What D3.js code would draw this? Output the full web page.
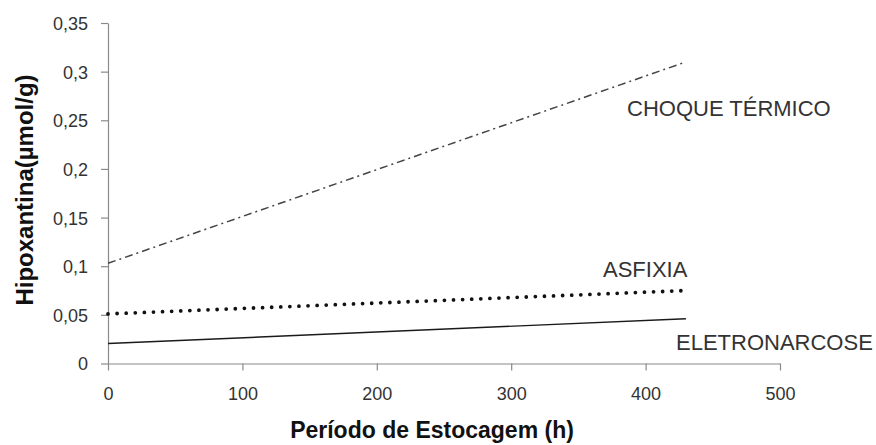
<!DOCTYPE html>
<html>
<head>
<meta charset="utf-8">
<script src="https://cdn.jsdelivr.net/npm/d3@7"></script>
<style>
  html, body { margin: 0; padding: 0; background: #fff; }
  svg { display: block; font-family: "Liberation Sans", Arial, sans-serif; }
</style>
</head>
<body>
<svg id="chart" width="876" height="445"></svg>
<script>
// Storage period (h) at the start and end of each fitted line
const period = [0, 430];

// Hypoxanthine (µmol/g) for each slaughter method
const choqueTermico = [0.103, 0.31];
const asfixia = [0.051, 0.075];
const eletronarcose = [0.0205, 0.046];

// Axis ticks
const xTicks = [0, 100, 200, 300, 400, 500];
const yTicks = [0, 0.05, 0.1, 0.15, 0.2, 0.25, 0.3, 0.35];

// Series names written next to their lines
const seriesNames = ["CHOQUE TÉRMICO", "ASFIXIA", "ELETRONARCOSE"];

const svg = d3.select("#chart");

const x = d3.scaleLinear().domain([0, 500]).range([108, 780]);
const y = d3.scaleLinear().domain([0, 0.35]).range([363.5, 23]);

const fmt = v => String(+v.toFixed(2)).replace(".", ",");

// X axis
const gx = svg.append("g")
  .attr("transform", `translate(0,${y(0)})`)
  .call(d3.axisBottom(x).tickValues(xTicks).tickSize(7).tickSizeOuter(0).tickPadding(17).tickFormat(d => d));
// Y axis
const gy = svg.append("g")
  .attr("transform", `translate(${x(0)},0)`)
  .call(d3.axisLeft(y).tickValues(yTicks).tickSize(7).tickSizeOuter(0).tickPadding(13).tickFormat(fmt));

[gx, gy].forEach(g => {
  g.select(".domain").attr("stroke", "#8a8a8a").attr("stroke-width", 1.2);
  g.selectAll(".tick line").attr("stroke", "#8a8a8a").attr("stroke-width", 1.2);
  g.selectAll(".tick text")
    .attr("fill", "#333")
    .style("font-size", "18px")
    .style("font-family", "'Liberation Sans', Arial, sans-serif");
});
gy.selectAll(".tick text").attr("dy", "0.36em");

// Lines
const line = d3.line().x(d => x(d[0])).y(d => y(d[1]));
const pts = vals => period.map((p, i) => [p, vals[i]]);

svg.append("path")
  .datum(pts(eletronarcose))
  .attr("d", line)
  .attr("fill", "none")
  .attr("stroke", "#1a1a1a")
  .attr("stroke-width", 1.4);

svg.append("path")
  .datum(pts(asfixia))
  .attr("d", line)
  .attr("fill", "none")
  .attr("stroke", "#111")
  .attr("stroke-width", 3.8)
  .attr("stroke-linecap", "round")
  .attr("stroke-dasharray", "0 9.1");

svg.append("path")
  .datum(pts(choqueTermico))
  .attr("d", line)
  .attr("fill", "none")
  .attr("stroke", "#444")
  .attr("stroke-width", 1.5)
  .attr("stroke-dasharray", "8 4 2 4");

// Series labels
const lbl = (txt, lx, ly) => svg.append("text")
  .attr("x", lx).attr("y", ly)
  .attr("fill", "#333")
  .style("font-size", "22px")
  .text(txt);

lbl(seriesNames[0], 627, 116);
lbl(seriesNames[1], 603, 277);
lbl(seriesNames[2], 676, 350);

// Axis titles
svg.append("text")
  .attr("x", 432).attr("y", 438)
  .attr("text-anchor", "middle")
  .attr("fill", "#111")
  .style("font-size", "23px")
  .style("font-weight", "bold")
  .text("Período de Estocagem (h)");

svg.append("text")
  .attr("transform", "translate(33,190) rotate(-90)")
  .attr("text-anchor", "middle")
  .attr("fill", "#111")
  .style("font-size", "24px")
  .style("font-weight", "bold")
  .text("Hipoxantina(µmol/g)");
</script>
</body>
</html>
